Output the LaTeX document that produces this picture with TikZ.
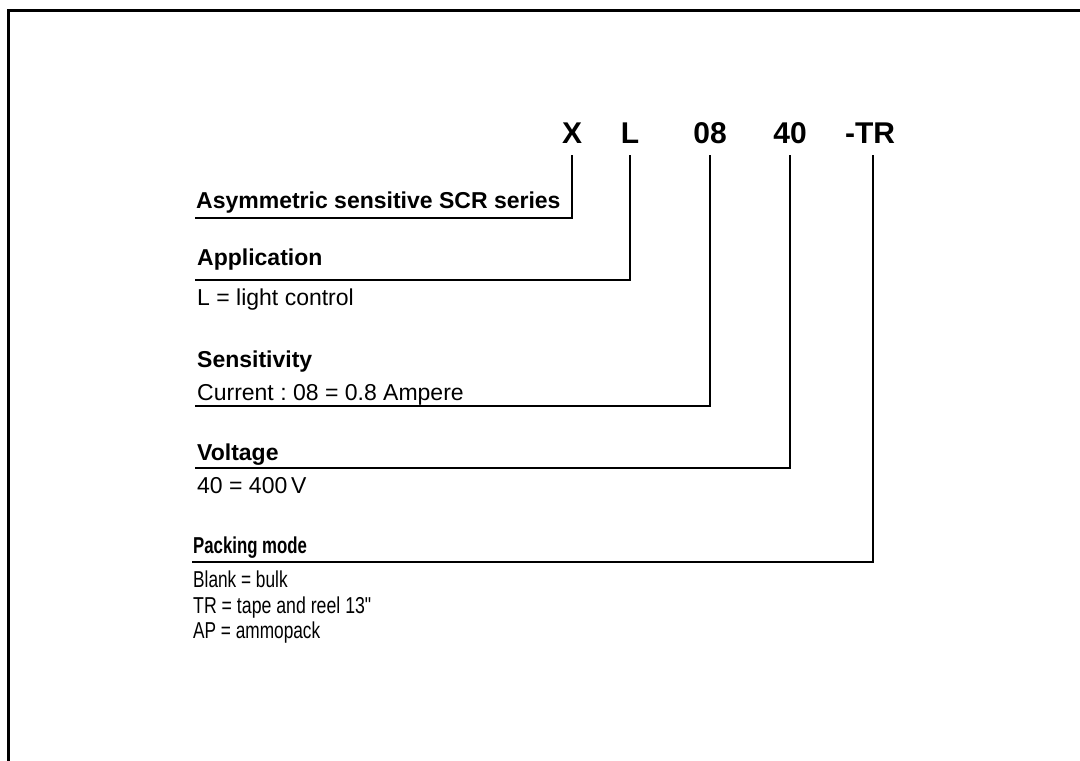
\documentclass[tikz,border=0pt]{standalone}
\usepackage{fontspec}
\setmainfont{Liberation Sans}
\newfontfamily\rawfont{Liberation Sans}
\frenchspacing
\begin{document}
\begin{tikzpicture}[x=1pt,y=-1pt,
  code/.style={anchor=base,inner sep=0pt,font=\fontsize{30}{34}\selectfont\bfseries},
  head/.style={anchor=base west,inner sep=0pt,font=\fontsize{23}{27}\selectfont\bfseries},
  desc/.style={anchor=base west,inner sep=0pt,font=\fontsize{23}{27}\selectfont},
  conn/.style={line width=2.4pt},
  frame/.style={line width=3pt}]
\useasboundingbox (0,0) rectangle (1080,761);
\draw[frame] (8,770) -- (8,10) -- (1090,10);
% part number code
\node[code] (X) at (572,143) {X};
\node[code] (L) at (630,143) {L};
\node[code] (S) at (710,143) {08};
\node[code] (V) at (790,143) {40};
\node[code] (P) at (870,143) {-TR};
% labels
\node[head] (asym) at (196,208) {Asymmetric sensitive SCR series};
\node[head] (app) at (197,265) {Application};
\node[desc] (appd) at (197,305) {L = light control};
\node[head] (sens) at (197,367) {Sensitivity};
\node[desc] (sensd) at (197,400) {Current : 08 = 0.8 Ampere};
\node[head] (volt) at (197,460) {Voltage};
\node[desc] (voltd) at (197,493) {40 = 400\,V};
\node[head] (pack) at (193,553) {\scalebox{0.73}[1]{Packing mode}};
\node[desc] (pack1) at (193,587) {\scalebox{0.75}[1]{Blank = bulk}};
\node[desc] (pack2) at (193,613) {\scalebox{0.77}[1]{TR = tape and reel 13{\rawfont"}}};
\node[desc] (pack3) at (193,638) {\scalebox{0.75}[1]{AP = ammopack}};
% underline starts
\coordinate (a1) at (195,218);
\coordinate (a2) at (195,280);
\coordinate (a3) at (195,406);
\coordinate (a4) at (195,468);
\coordinate (a5) at (192,562);
% connectors
\draw[conn] ([yshift=-12pt]X.south) -- (X.south |- a1) -- (a1);
\draw[conn] ([yshift=-12pt]L.south) -- (L.south |- a2) -- (a2);
\draw[conn] ([yshift=-12pt]S.south) -- (S.south |- a3) -- (a3);
\draw[conn] ([yshift=-12pt]V.south) -- (V.south |- a4) -- (a4);
\draw[conn] ([yshift=-12pt,xshift=3pt]P.south) -- ([xshift=3pt]P.south |- a5) -- (a5);
\end{tikzpicture}
\end{document}
